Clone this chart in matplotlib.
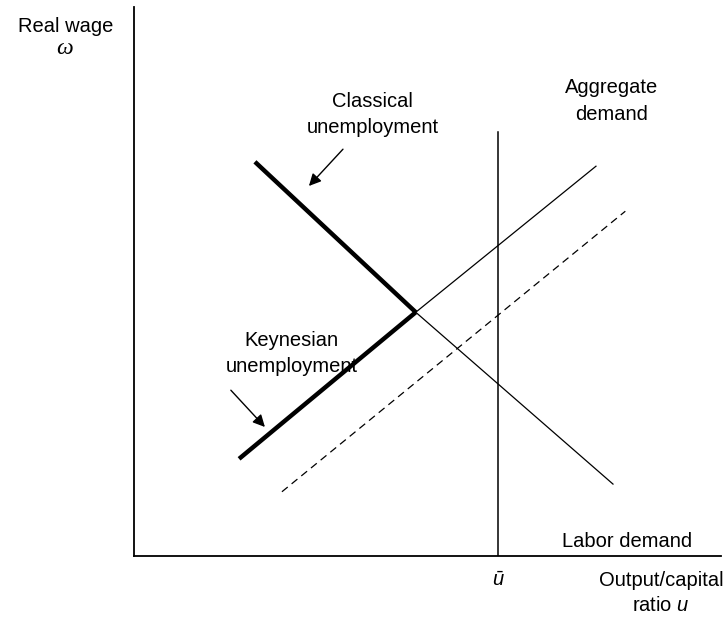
import matplotlib
matplotlib.use("Agg")
import matplotlib.pyplot as plt

plt.rcParams["font.family"] = ["Liberation Sans", "DejaVu Sans"]
plt.rcParams["mathtext.fontset"] = "custom"
plt.rcParams["mathtext.it"] = "Liberation Sans:italic"
plt.rcParams["mathtext.rm"] = "Liberation Sans"

# Schematic curves (output/capital ratio u, real wage omega)
labor_demand_u = [2.06, 4.80, 8.16]
labor_demand_w = [7.18, 4.44, 1.31]
agg_demand_u = [1.79, 4.80, 7.87]
agg_demand_w = [1.77, 4.44, 7.10]
shifted_ad_u = [2.52, 8.37]
shifted_ad_w = [1.17, 6.28]
u_bar = 6.20
u_bar_top = 7.72

fig = plt.figure(figsize=(7.24, 6.23), dpi=100)
ax = fig.add_axes([134 / 724, 67 / 623, 587 / 724, 549 / 623])
ax.set_xlim(0, 10)
ax.set_ylim(0, 10)
for side in ("top", "right"):
    ax.spines[side].set_visible(False)
for side in ("left", "bottom"):
    ax.spines[side].set_linewidth(1.3)
ax.set_xticks([])
ax.set_yticks([])

thin = 0.9
thick = 3.2

# Labor demand: thick on the classical branch, thin beyond the kink
ax.plot(labor_demand_u[:2], labor_demand_w[:2], color="black", lw=thick,
        solid_capstyle="butt")
ax.plot(labor_demand_u[1:], labor_demand_w[1:], color="black", lw=thin)
# Aggregate demand: thick on the Keynesian branch, thin beyond the kink
ax.plot(agg_demand_u[:2], agg_demand_w[:2], color="black", lw=thick,
        solid_capstyle="butt")
ax.plot(agg_demand_u[1:], agg_demand_w[1:], color="black", lw=thin)
# Shifted aggregate demand
ax.plot(shifted_ad_u, shifted_ad_w, color="black", lw=thin, dashes=(6, 4))
# Full capacity utilization
ax.plot([u_bar, u_bar], [0, u_bar_top], color="black", lw=thin + 0.2)

arrow = dict(arrowstyle="-|>", color="black", lw=1.0, mutation_scale=18,
             shrinkA=0, shrinkB=0)
ax.annotate("", xy=(2.98, 6.74), xytext=(3.56, 7.41), arrowprops=arrow)
ax.annotate("", xy=(2.23, 2.35), xytext=(1.65, 3.02), arrowprops=arrow)

fs = 14.5
def label(x, y, s, **kw):
    ax.text(x, y, s, ha="center", va="center", fontsize=fs, clip_on=False, **kw)

label(-1.16, 9.65, "Real wage")
ax.text(-1.19, 9.25, "ω", ha="center", va="center", fontsize=17,
        family="Liberation Serif", style="italic", clip_on=False)
label(4.07, 8.27, "Classical")
label(4.07, 7.80, "unemployment")
label(8.13, 8.54, "Aggregate")
label(8.13, 8.05, "demand")
label(2.69, 3.92, "Keynesian")
label(2.69, 3.46, "unemployment")
label(8.40, 0.27, "Labor demand")
label(u_bar, -0.45, r"$\bar{u}$")
label(8.98, -0.44, "Output/capital")
label(8.98, -0.91, r"ratio $u$")

fig.savefig("out.png", dpi=100)
